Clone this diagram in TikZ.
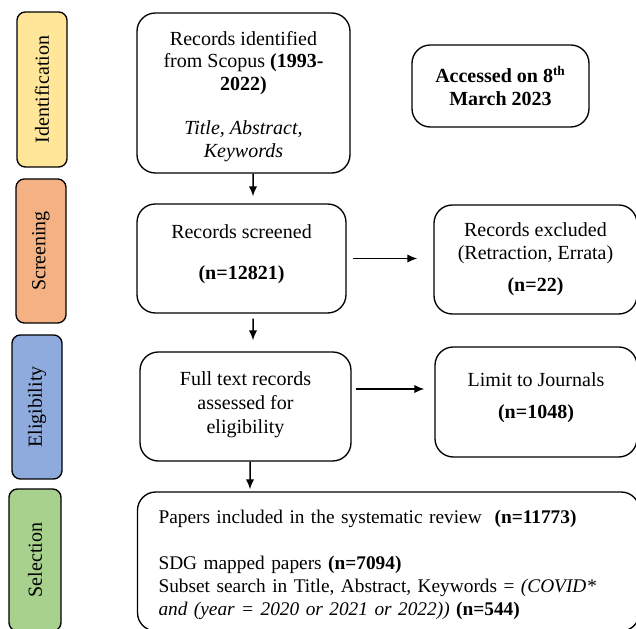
\documentclass[tikz,border=0pt]{standalone}
\usepackage{fontspec}
\setmainfont{Liberation Serif}
\usepackage{tikz}
\usetikzlibrary{shapes.geometric, arrows.meta, calc}
\definecolor{identcol}{HTML}{FFE699}
\definecolor{screencol}{HTML}{F4B183}
\definecolor{eligcol}{HTML}{8FAADC}
\definecolor{selectcol}{HTML}{A9D18E}
\tikzstyle{phase} = [draw, line width=0.8pt, rectangle, rounded corners=5pt, rotate=90,
minimum width=86.4pt, minimum height=30pt, inner sep=0pt, font=\rmfamily\fontsize{12}{13.5}\selectfont]
\tikzstyle{block} = [draw, line width=0.8pt, rectangle, rounded corners=11pt, align=center,
minimum width=126pt, minimum height=65.4pt, inner sep=2pt, font=\rmfamily\fontsize{12}{13.5}\selectfont]
\tikzstyle{line} = [draw, line width=0.9pt]

\begin{document}
\begin{tikzpicture}[x=0.6pt, y=-0.6pt, node distance=2cm, >={Latex[length=6pt,width=5pt]}]
	\useasboundingbox (0,0) rectangle (636,629);
	\clip (0,0) rectangle (636,629);
	% We start by placing the phase labels on the left
	\node [phase, fill=identcol, minimum width=93pt] (identlbl) at (42,89.5) {Identification};
	\node [phase, fill=screencol] (screenlbl) at (41,251) {Screening};
	\node [phase, fill=eligcol] (eliglbl) at (37,407) {Eligibility};
	\node [phase, fill=selectcol, minimum width=85.2pt, minimum height=31.2pt] (selectlbl) at (35,560) {Selection};
	% Then the main column of blocks
	\node [block, minimum width=127.8pt, minimum height=96pt] (ident) at (243.5,93)
		{\rule{0pt}{12.5pt}Records identified\\from Scopus \textbf{(1993-}\\\textbf{2022)}\\[13pt]\textit{Title, Abstract,}\\\textit{Keywords}};
	\node [block, below of=ident, node distance=99.3pt, xshift=-1.2pt, minimum width=125.4pt] (screen)
		{Records screened\\[11pt]\textbf{(n=12821)}\\[-6pt]\mbox{}};
	\node [block, below of=screen, node distance=88.8pt, xshift=2.4pt, minimum width=126.6pt] (full)
		{Full text records\\[1pt]assessed for\\[1pt]eligibility\\[-9pt]\mbox{}};
	\node [block, align=left, minimum width=301.2pt, minimum height=83.4pt, inner xsep=12.6pt,
		text width=276pt, font=\rmfamily\fontsize{11.6}{13.8}\selectfont] (final) at (388.5,561.5)
		{\rule{0pt}{12pt}Papers included in the systematic review~~\textbf{(n=11773)}\\[14pt]
		SDG mapped papers \textbf{(n=7094)}\\
		Subset search in Title, Abstract, Keywords = \textit{(COVID*}\\
		\textit{and (year = 2020 or 2021 or 2022))} \textbf{(n=544)}};
	% The boxes on the right
	\node [block, right of=ident, node distance=154.2pt, yshift=4.2pt, minimum width=106.2pt,
		minimum height=49.2pt] (access) {\textbf{Accessed on 8\textsuperscript{th}}\\\textbf{March 2023}};
	\node [block, right of=screen, node distance=176.4pt, yshift=-0.6pt, minimum width=121.8pt] (excl)
		{Records excluded\\(Retraction, Errata)\\[6pt]\textbf{(n=22)}};
	\node [block, right of=full, node distance=174.3pt, yshift=2.7pt, minimum width=121.2pt,
		minimum height=66pt] (limit) {Limit to Journals\\[6pt]\textbf{(n=1048)}\\[-6pt]\mbox{}};

	% Once the nodes are placed, connecting them is easy.
	\draw [line, ->, shorten >=4.2pt] ($(ident.south)+(9.5,0)$) -- ($(screen.north)+(11.5,0)$);
	\draw [line, ->, shorten <=3.6pt, shorten >=9.6pt] (screen.east) -- (screen.east -| excl.west);
	\draw [line, ->, shorten <=3pt, shorten >=6.6pt] ($(screen.south)+(11.5,0)$) -- ($(full.north)+(7.5,0)$);
	\coordinate (fullout) at ($(full.east)+(0,-17.5)$);
	\draw [line, ->, shorten <=2.4pt, shorten >=6pt] (fullout) -- (fullout -| limit.west);
	\draw [line, ->, shorten >=1.2pt] ($(full.south)+(4.5,0)$) -- ($(final.north)+(-138.5,0)$);
\end{tikzpicture}
\end{document}
